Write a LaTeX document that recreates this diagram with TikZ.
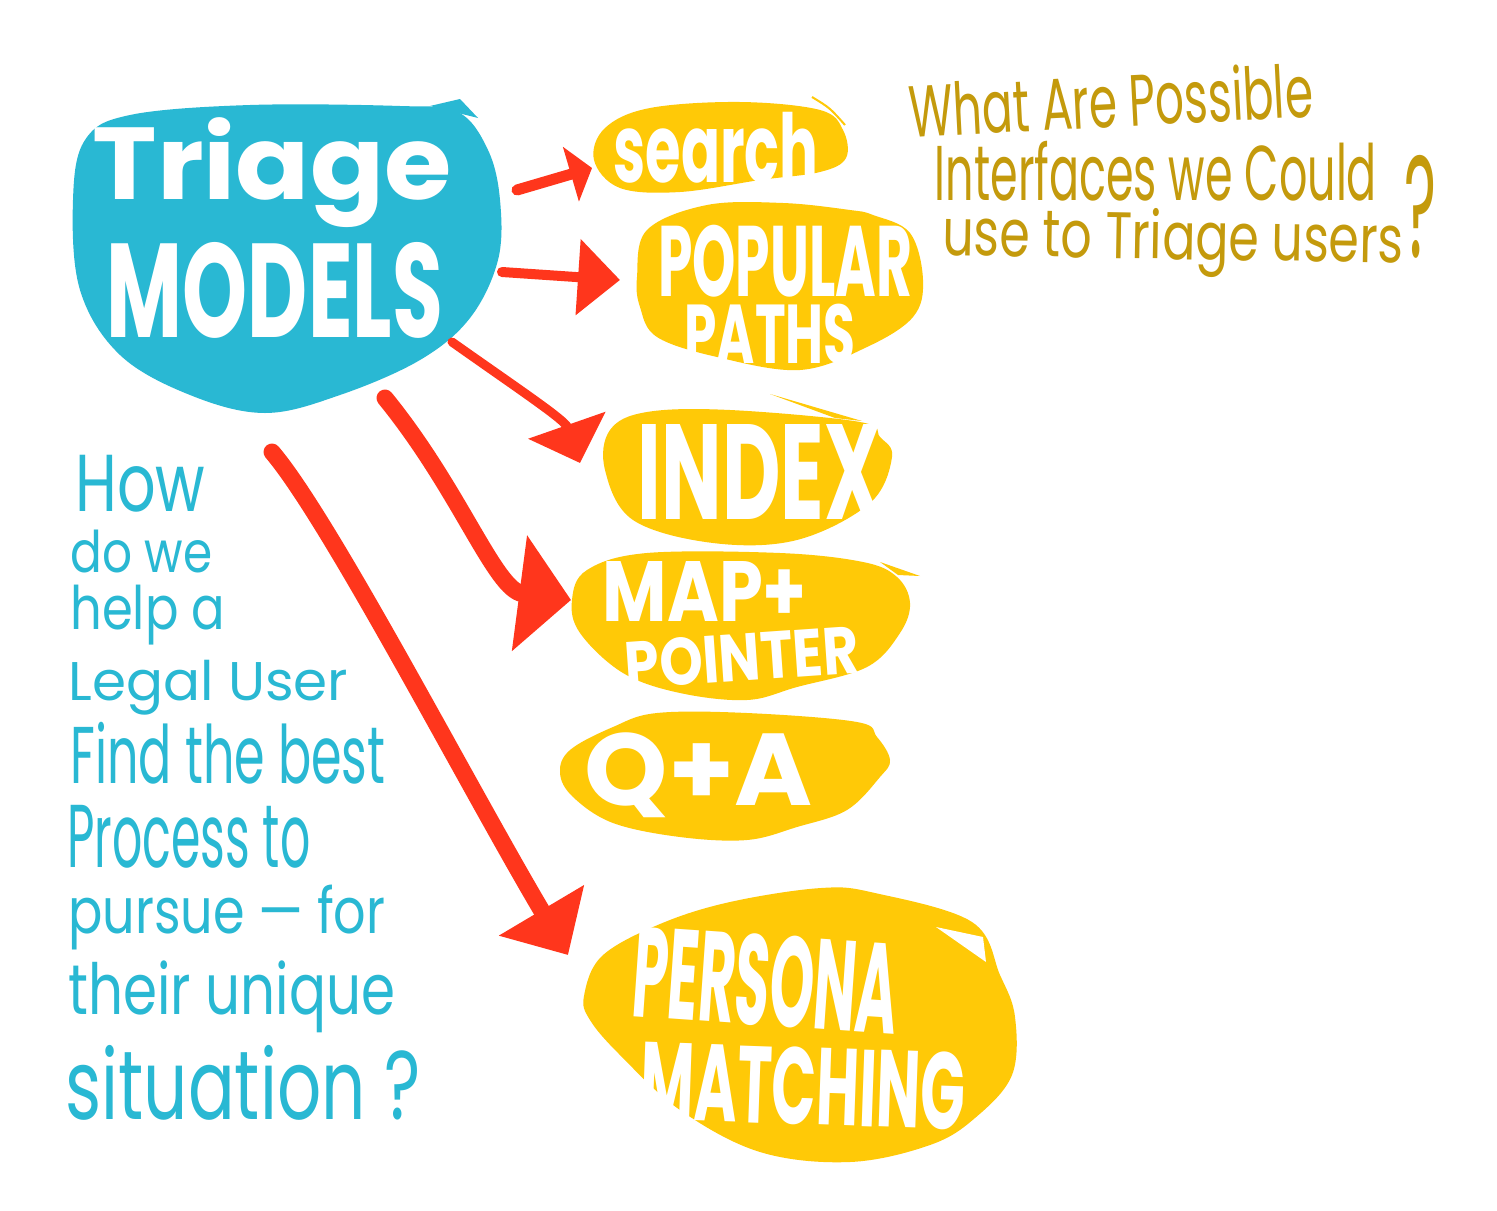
\documentclass[tikz,border=0pt]{standalone}
\usepackage{fontspec}
\usepackage{graphicx}
\usetikzlibrary{arrows.meta}
\newfontfamily\blobfont{Poppins}
\newfontfamily\handfont{Poppins}
\definecolor{tblue}{HTML}{29B8D3}
\definecolor{tyel}{HTML}{FFC907}
\definecolor{tred}{HTML}{FF361C}
\definecolor{tgold}{HTML}{C49A0C}
\newcommand\fitto[3]{\resizebox*{0.5\dimexpr#1pt\relax}{0.5\dimexpr#2pt\relax}{#3}}
\newcommand\twostack[3]{\vbox{\offinterlineskip\halign{\hfil##\hfil\cr#1\cr\noalign{\kern#3}#2\cr}}}
\newcommand\threestack[5]{\vbox{\offinterlineskip\halign{\hfil##\hfil\cr#1\cr\noalign{\kern#4}#2\cr\noalign{\kern#5}#3\cr}}}
\tikzset{
  blobtext/.style={text=white,inner sep=0pt,font=\blobfont\bfseries},
  bluehand/.style={text=tblue,inner sep=0pt,anchor=north west,font=\handfont},
  goldhand/.style={text=tgold,inner sep=0pt,font=\handfont},
  redarrow/.style={draw=tred,line cap=round},
  blob/.style={fill=tyel},
}
\begin{document}
\begin{tikzpicture}[x=0.5pt,y=-0.5pt]
\useasboundingbox (0,0) rectangle (1497,1210);
\fill[white] (0,0) rectangle (1497,1210);

% ---------- blobs ----------
\fill[tblue] plot[smooth cycle,tension=0.6] coordinates {(85,140) (130,115) (250,105) (400,106) (458,112) (488,150) (500,200) (498,260) (470,318) (420,360) (340,395) (265,413) (190,395) (120,355) (80,290) (73,200)};
\fill[tblue] (430,106) -- (460,99) -- (478,118) -- cycle;

\fill[blob] plot[smooth cycle,tension=0.6] coordinates {(594,160) (605,128) (650,108) (740,102) (820,110) (843,130) (846,158) (820,172) (760,180) (680,192) (620,188)};
\draw[tyel,line width=1pt] (812,97) .. controls (830,108) .. (845,125);

\fill[blob] plot[smooth cycle,tension=0.6] coordinates {(637,277) (647,230) (707,205) (783,203) (850,210) (873,215) (910,233) (923,280) (913,317) (867,347) (800,370) (717,357) (657,337) (640,307)};

\fill[blob] plot[smooth cycle,tension=0.6] coordinates {(610,430) (605,470) (633,520) (713,543) (797,540) (870,503) (892,457) (880,437) (860,422) (730,410) (647,412)};
\fill[tyel] (770,394) -- (862,421) -- (835,418) -- cycle;

\fill[blob] plot[smooth cycle,tension=0.6] coordinates {(572,600) (587,570) (647,553) (780,553) (863,562) (897,577) (910,603) (900,633) (867,667) (797,687) (747,700) (680,693) (623,673) (580,633)};
\fill[tyel] (880,562) -- (920,576) -- (898,575) -- cycle;

\fill[blob] plot[smooth cycle,tension=0.6] coordinates {(560,773) (570,750) (613,727) (657,713) (747,713) (857,722) (877,737) (890,760) (880,777) (847,810) (797,827) (747,840) (680,837) (613,823) (573,797)};

\fill[blob] plot[smooth cycle,tension=0.6] coordinates {(584,996) (602,956) (660,924) (730,902) (821,888) (875,893) (972,922) (1000,975) (1015,1017) (1012,1075) (975,1118) (930,1145) (850,1162) (760,1152) (680,1110) (620,1055) (590,1020)};
\fill[white] (936,927) -- (983,937) -- (986,962) -- cycle;

% ---------- blob labels ----------
\node[blobtext,anchor=north] (triage) at (272,117)
  {\twostack{\fitto{359}{110}{Triage}}{\hskip3pt\fitto{336}{96}{MODELS}}{7.5pt}};
\node[blobtext] (search) at (716,148) {\fitto{205}{71}{search}};
\node[blobtext,anchor=north] (popular) at (785,225)
  {\twostack{\fitto{254}{72}{POPULAR}}{\fitto{171}{60}{PATHS}\hskip15pt}{3.5pt}};
\node[blobtext] (index) at (760,472) {\fitto{244}{95}{INDEX}};
\node[blobtext,anchor=north] (map) at (742,561)
  {\twostack{\fitto{204}{60}{MAP+}\hskip37pt}{\rotatebox{4}{\fitto{234}{48}{POINTER}}}{2pt}};
\node[blobtext] (qa) at (699,775) {\fitto{228}{85}{Q+A}};
\node[blobtext,anchor=north] (persona) at (803,925)
  {\twostack{\rotatebox{-4}{\fitto{265}{92}{PERSONA}}\hskip37pt}{\rotatebox{-2}{\fitto{324}{78}{MATCHING}}}{2.75pt}};

% ---------- arrows ----------
\coordinate (s1) at (517,190); \coordinate (e1) at (592,168);
\coordinate (s2) at (502,272); \coordinate (e2) at (620,280);
\coordinate (s3) at (452,342); \coordinate (e3) at (580,463);
\coordinate (s4) at (385,398); \coordinate (e4) at (571,600);
\coordinate (s5) at (272,452); \coordinate (e5) at (568,955);
\draw[redarrow,line width=5.5pt,-{Triangle[length=11pt,width=28pt]}] (s1) -- (e1);
\draw[redarrow,line width=5pt,-{Triangle[length=21pt,width=37pt]}] (s2) -- (e2);
\draw[redarrow,line width=4.5pt,-{Triangle[length=20pt,width=40pt]}] (s3) .. controls (520,390) and (565,420) .. (e3);
\draw[redarrow,line width=8.5pt,-{Triangle[length=26pt,width=57pt]}] (s4) .. controls (460,490) and (495,590) .. (e4);
\draw[redarrow,line width=8.5pt,-{Triangle[length=26pt,width=48pt]}] (s5) .. controls (330,520) and (470,790) .. (e5);

% ---------- left question ----------
\foreach \n/\t/\x/\y/\w/\h in {1/How/75/455/130/57, 2/do we/70/530/142/43, 3/help a/70/585/155/60, 4/Legal User/68/660/280/55, 5/Find the best/70/722/315/62, 6/Process to/67/805/243/63, 7/pursue — for/68/885/317/65, 8/their unique/68/960/327/72, 9/situation ?/65/1045/355/75}
  \node[bluehand] (q\n) at (\x,\y) {\fitto{\w}{\h}{\t}};

% ---------- right question ----------
\node[goldhand,anchor=north] (gq) at (1173,61)
  {\threestack{\rotatebox{3}{\fitto{404}{56}{What Are Possible}}\hskip62pt}{\fitto{442}{60}{Interfaces we Could}\hskip17pt}{\rotatebox{-1}{\fitto{461}{68}{use to Triage users}}}{1.25pt}{2pt}};
\node[goldhand] (gmark) at (1420,207) {\fitto{32}{103}{?}};
\end{tikzpicture}
\end{document}
